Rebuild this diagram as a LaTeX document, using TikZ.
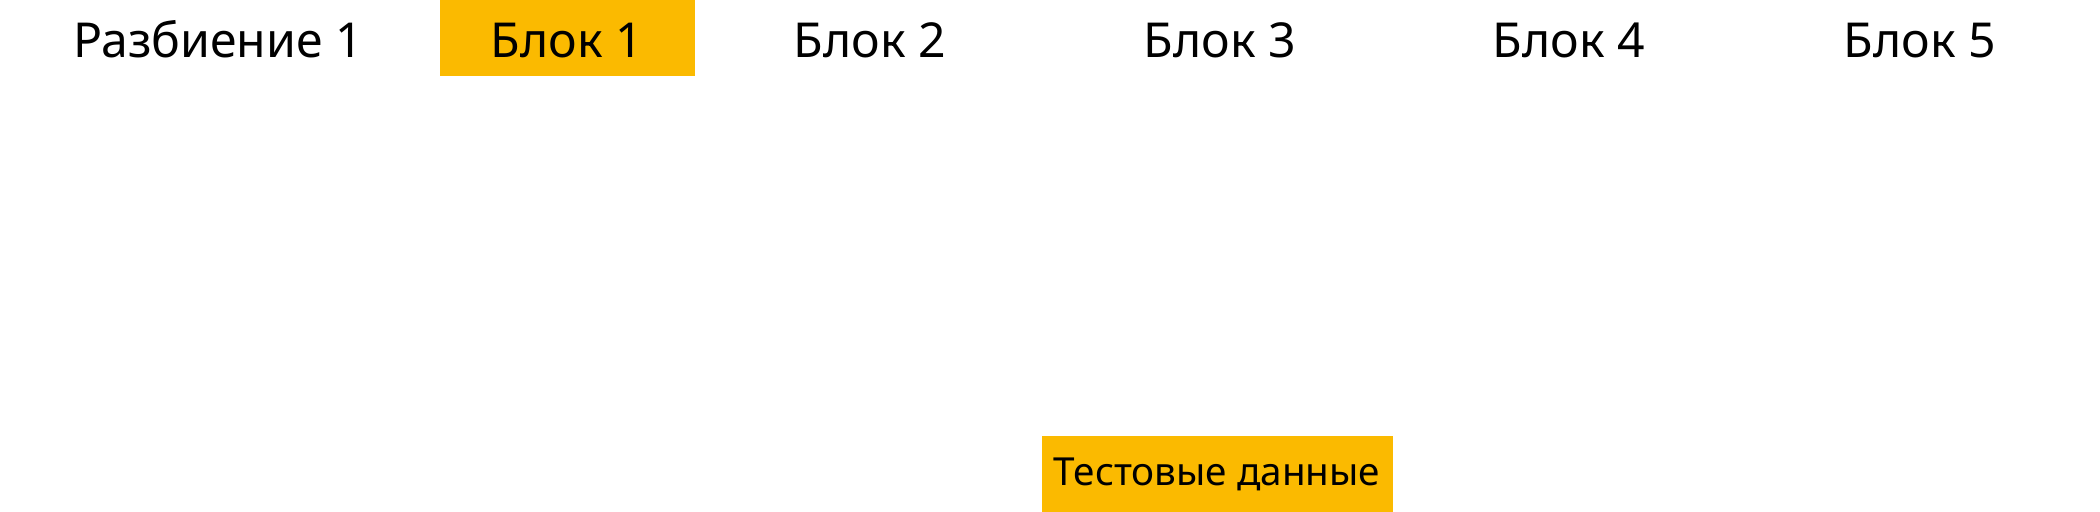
\documentclass[tikz,border=0pt]{standalone}
\usepackage{fontspec}
\setmainfont{Noto Sans}
\definecolor{blockorange}{RGB}{251,186,0}

\begin{document}
\begin{tikzpicture}[
    cell/.style={minimum height=0.76cm,inner sep=0pt,text height=0.39cm,text depth=0pt,font=\fontsize{13.7}{16}\selectfont},
    marked/.style={fill=blockorange,minimum width=2.55cm},
    testbox/.style={fill=blockorange,minimum width=3.51cm,minimum height=0.76cm,inner sep=0pt,font=\fontsize{11}{13}\selectfont}]
        \useasboundingbox (0,0) rectangle (21,5.12);
        \node[cell] (split) at (2.18,4.74) {Разбиение 1};
        \node[cell,marked] (block1) at (5.67,4.74) {Блок 1};
        \foreach \i/\x in {2/8.70,3/12.20,4/15.69,5/19.20}
            \node[cell] (block\i) at (\x,4.74) {Блок \i};

        \node[testbox] (test) at (12.17,0.38) {Тестовые данные};
    \end{tikzpicture}
\end{document}
